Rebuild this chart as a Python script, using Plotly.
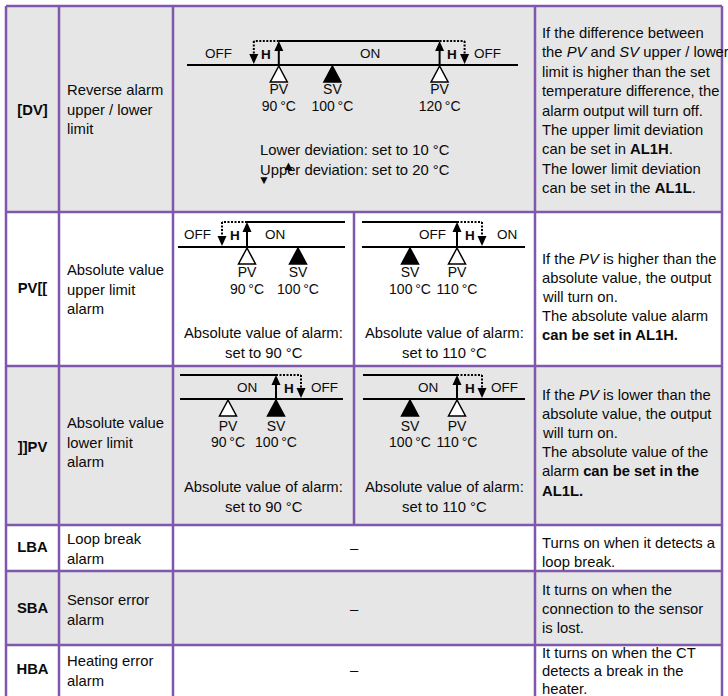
import plotly.graph_objects as go

W, H = 728, 696

# ---------------------------------------------------------------------------
# table text
# ---------------------------------------------------------------------------
CODES = ["[DV]", "PV[[", "]]PV", "LBA", "SBA", "HBA"]
NAMES = [
    ["Reverse alarm", "upper / lower", "limit"],
    ["Absolute value", "upper limit", "alarm"],
    ["Absolute value", "lower limit", "alarm"],
    ["Loop break", "alarm"],
    ["Sensor error", "alarm"],
    ["Heating error", "alarm"],
]
NOTES = [
    ["If the difference between",
     "the <i>PV</i> and <i>SV</i> upper / lower",
     "limit is higher than the set",
     "temperature difference, the",
     "alarm output will turn off.",
     "The upper limit deviation",
     "can be set in <b>AL1H</b>.",
     "The lower limit deviation",
     "can be set in the <b>AL1L</b>."],
    ["If the <i>PV</i> is higher than the",
     "absolute value, the output",
     "will turn on.",
     "The absolute value alarm",
     "<b>can be set in AL1H.</b>"],
    ["If the <i>PV</i> is lower than the",
     "absolute value, the output",
     "will turn on.",
     "The absolute value of the",
     "alarm <b>can be set in the</b>",
     "<b>AL1L.</b>"],
    ["Turns on when it detects a", "loop break."],
    ["It turns on when the", "connection to the sensor", "is lost."],
    ["It turns on when the CT", "detects a break in the", "heater."],
]
NO_DIAGRAM = "–"

# ---------------------------------------------------------------------------
# diagram values (°C)
# ---------------------------------------------------------------------------
DV_TEMPS = [90, 100, 120]
DV_KINDS = ["PV", "SV", "PV"]
DV_SWITCH = [90, 120]
DV_TEXT = ["Lower deviation: set to 10 °C", "Upper deviation: set to 20 °C"]

HI_TEMPS = [[90, 100], [100, 110]]
HI_KINDS = [["PV", "SV"], ["SV", "PV"]]
HI_SWITCH = [90, 110]
HI_SET = [90, 110]

LO_TEMPS = [[90, 100], [100, 110]]
LO_KINDS = [["PV", "SV"], ["SV", "PV"]]
LO_SWITCH = [100, 110]
LO_SET = [90, 110]

# ---------------------------------------------------------------------------
# look
# ---------------------------------------------------------------------------
FONT = "Liberation Sans, Arial, Helvetica, sans-serif"
FS = 14.8        # body text
FS_SMALL = 14    # PV / SV labels
FS_STATE = 13.5  # OFF / ON / H
INK = "#0a0a0a"
PURPLE = "#7f58ad"
GREY = "#e6e6e6"
ROW_Y = [6, 212, 366, 525, 571, 645, 698]
COL_X = [6, 59, 173, 535, 722]
SPLIT_X = 354
CODE_Y = [111, 289, 448, 548, 609, 670]
NAME_Y0 = [90, 270, 423, 539, 600, 661]
NOTE_Y0 = [33, 259, 395, 543, 590, 653]
NAME_DY = 19.6
NOTE_DY = [19.4, 19.1, 19.1, 19.1, 19.1, 17.8]
HYST = 25

# one entry per small diagram: values + where it sits (pixels)
DIAGRAMS = [
    dict(temps=DV_TEMPS, kinds=DV_KINDS,
         switches=[(DV_SWITCH[0], -1), (DV_SWITCH[1], 1)],
         span=(187, 518), scale=(90, 278.8, 5.36), on=41, base=65,
         label_y=(90, 107), on_seg=(DV_SWITCH[0], DV_SWITCH[1]),
         states=[("OFF", 218), ("ON", 370), ("OFF", 487)]),
    dict(temps=HI_TEMPS[0], kinds=HI_KINDS[0], switches=[(HI_SWITCH[0], -1)],
         span=(178, 345), scale=(90, 247, 5.1), on=222, base=247,
         label_y=(273, 290), on_seg=(HI_SWITCH[0], None),
         states=[("OFF", 197), ("ON", 275)],
         note=HI_SET[0], cell=(COL_X[2], SPLIT_X), note_y=(333, 353)),
    dict(temps=HI_TEMPS[1], kinds=HI_KINDS[1], switches=[(HI_SWITCH[1], 1)],
         span=(362, 525), scale=(100, 410, 4.7), on=222, base=247,
         label_y=(273, 290), on_seg=(None, HI_SWITCH[1]),
         states=[("OFF", 432), ("ON", 507)],
         note=HI_SET[1], cell=(SPLIT_X, COL_X[3]), note_y=(333, 353)),
    dict(temps=LO_TEMPS[0], kinds=LO_KINDS[0], switches=[(LO_SWITCH[0], 1)],
         span=(180, 343), scale=(90, 228, 4.8), on=375, base=399,
         label_y=(427, 443), on_seg=(None, LO_SWITCH[0]),
         states=[("ON", 247), ("OFF", 324)],
         note=LO_SET[0], cell=(COL_X[2], SPLIT_X), note_y=(487, 507)),
    dict(temps=LO_TEMPS[1], kinds=LO_KINDS[1], switches=[(LO_SWITCH[1], 1)],
         span=(363, 525), scale=(100, 410, 4.7), on=375, base=399,
         label_y=(427, 443), on_seg=(None, LO_SWITCH[1]),
         states=[("ON", 428), ("OFF", 504)],
         note=LO_SET[1], cell=(SPLIT_X, COL_X[3]), note_y=(487, 507)),
]

BLACK = dict(color="black", width=2)
DOTTED = dict(color="black", width=2, dash="2px,1.5px")


def txt(x, y, text, size=FS, anchor="left", xref="x", xshift=0):
    return dict(x=x, y=y, xref=xref, yref="y", text=text, showarrow=False,
                xanchor=anchor, yanchor="middle", xshift=xshift,
                font=dict(family=FONT, size=size, color=INK))


fig = go.Figure()
shapes, annots = [], []

# ---------------------------------------------------------------------------
# table grid
# ---------------------------------------------------------------------------
for i in range(len(CODES)):
    if i % 2 == 0:
        shapes.append(dict(type="rect", xref="x", yref="y", layer="below",
                           x0=COL_X[0], x1=COL_X[-1], y0=ROW_Y[i], y1=ROW_Y[i + 1],
                           fillcolor=GREY, line_width=0))
for y in ROW_Y:
    shapes.append(dict(type="line", xref="x", yref="y", x0=COL_X[0], x1=COL_X[-1],
                       y0=y, y1=y, line=dict(color=PURPLE, width=2.5)))
for x in COL_X:
    shapes.append(dict(type="line", xref="x", yref="y", x0=x, x1=x,
                       y0=ROW_Y[0], y1=ROW_Y[-1], line=dict(color=PURPLE, width=2.5)))
shapes.append(dict(type="line", xref="x", yref="y", x0=SPLIT_X, x1=SPLIT_X,
                   y0=ROW_Y[1], y1=ROW_Y[3], line=dict(color=PURPLE, width=2.5)))

# codes column
fig.add_trace(go.Scatter(
    x=[(COL_X[0] + COL_X[1]) / 2] * len(CODES), y=CODE_Y, text=CODES,
    mode="text", texttemplate="<b>%{text}</b>", cliponaxis=False, hoverinfo="skip",
    textfont=dict(family=FONT, size=FS, color=INK)))

for i, lines in enumerate(NAMES):
    for j, line in enumerate(lines):
        annots.append(txt(COL_X[1] + 6, NAME_Y0[i] + j * NAME_DY, line))
for i, lines in enumerate(NOTES):
    for j, line in enumerate(lines):
        annots.append(txt(COL_X[3] + 5, NOTE_Y0[i] + j * NOTE_DY[i], line))
for i in range(3, len(CODES)):
    annots.append(txt((COL_X[2] + COL_X[3]) / 2, CODE_Y[i], NO_DIAGRAM, anchor="center"))

# ---------------------------------------------------------------------------
# switching diagrams, each on its own x axis in °C
# ---------------------------------------------------------------------------
axes = {}
for k, d in enumerate(DIAGRAMS, start=2):
    xa = f"x{k}"
    a, b = d["span"]
    t0, p0, s = d["scale"]
    lo, hi = t0 + (a - p0) / s, t0 + (b - p0) / s
    axes[f"xaxis{k}"] = dict(domain=[a / W, b / W], range=[lo, hi], visible=False,
                             anchor="y", fixedrange=True)
    on, base = d["on"], d["base"]

    # baseline and ON level
    shapes.append(dict(type="line", xref=f"{xa} domain", yref="y", x0=0, x1=1,
                       y0=base, y1=base, line=BLACK))
    s0, s1 = d["on_seg"]
    shapes.append(dict(type="line", xref=xa, yref="y",
                       x0=lo if s0 is None else s0, x1=hi if s1 is None else s1,
                       y0=on, y1=on, line=BLACK))

    # switching points: solid up arrow + dotted hysteresis return
    for t, side in d["switches"]:
        dx = side * HYST
        shapes.append(dict(type="line", xref=xa, yref="y", x0=t, x1=t,
                           y0=base, y1=on + 4, line=BLACK))
        shapes.append(dict(type="path", xref=xa, yref="y", xsizemode="pixel",
                           ysizemode="pixel", xanchor=t, yanchor=on,
                           path="M -4.5,-10 L 4.5,-10 L 0,0 Z",
                           fillcolor="black", line_width=0))
        shapes.append(dict(type="line", xref=xa, yref="y", xsizemode="pixel",
                           xanchor=t, x0=0, x1=dx, y0=on, y1=on, line=DOTTED))
        shapes.append(dict(type="line", xref=xa, yref="y", xsizemode="pixel",
                           xanchor=t, x0=dx, x1=dx, y0=on, y1=base - 10, line=DOTTED))
        shapes.append(dict(type="path", xref=xa, yref="y", xsizemode="pixel",
                           ysizemode="pixel", xanchor=t, yanchor=base,
                           path=f"M {dx - 4.5},11 L {dx + 4.5},11 L {dx},1 Z",
                           fillcolor="black", line_width=0))
        annots.append(txt(t, (on + base) / 2 + 1, "<b>H</b>", size=FS_STATE,
                          anchor="center", xref=xa, xshift=dx / 2))

    # PV (open) / SV (filled) markers
    for t, kind in zip(d["temps"], d["kinds"]):
        shapes.append(dict(type="path", xref=xa, yref="y", xsizemode="pixel",
                           ysizemode="pixel", xanchor=t, yanchor=base,
                           path="M -8.5,-17 L 8.5,-17 L 0,-1 Z",
                           fillcolor="black" if kind == "SV" else "white",
                           line=dict(color="black", width=1.5)))
    fig.add_trace(go.Scatter(
        x=d["temps"], y=[d["label_y"][0]] * len(d["temps"]), text=d["kinds"],
        xaxis=xa, yaxis="y", mode="text", cliponaxis=False, hoverinfo="skip",
        textfont=dict(family=FONT, size=FS_SMALL, color=INK)))
    fig.add_trace(go.Scatter(
        x=d["temps"], y=[d["label_y"][1]] * len(d["temps"]),
        text=[f"{t}\u2009°C" for t in d["temps"]],
        xaxis=xa, yaxis="y", mode="text", cliponaxis=False, hoverinfo="skip",
        textfont=dict(family=FONT, size=FS_SMALL, color=INK)))

    for label, px in d["states"]:
        annots.append(txt(px, (on + base) / 2, label, size=FS_STATE, anchor="center"))

    if "note" in d:
        cx = sum(d["cell"]) / 2
        annots.append(txt(cx, d["note_y"][0], "Absolute value of alarm:", anchor="center"))
        annots.append(txt(cx, d["note_y"][1], f"set to {d['note']} °C", anchor="center"))

# deviation notes under the first diagram, with the stray arrow glyphs
for j, line in enumerate(DV_TEXT):
    annots.append(txt(258, 150 + j * 20, line))
annots.append(txt(288, 165, "▲", size=13, anchor="center"))
annots.append(txt(264, 180, "▼", size=12, anchor="center"))

fig.update_layout(
    width=W, height=H, margin=dict(l=0, r=0, t=0, b=0),
    paper_bgcolor="white", plot_bgcolor="rgba(0,0,0,0)", showlegend=False,
    xaxis=dict(range=[0, W], domain=[0, 1], visible=False, fixedrange=True),
    yaxis=dict(range=[H, 0], domain=[0, 1], visible=False, fixedrange=True),
    shapes=shapes, annotations=annots, **axes,
)

# the page's default body margin would push the figure 8px in
fig.write_html("out.html", config={"displayModeBar": False},
               post_script="document.body.style.margin = '0';")
